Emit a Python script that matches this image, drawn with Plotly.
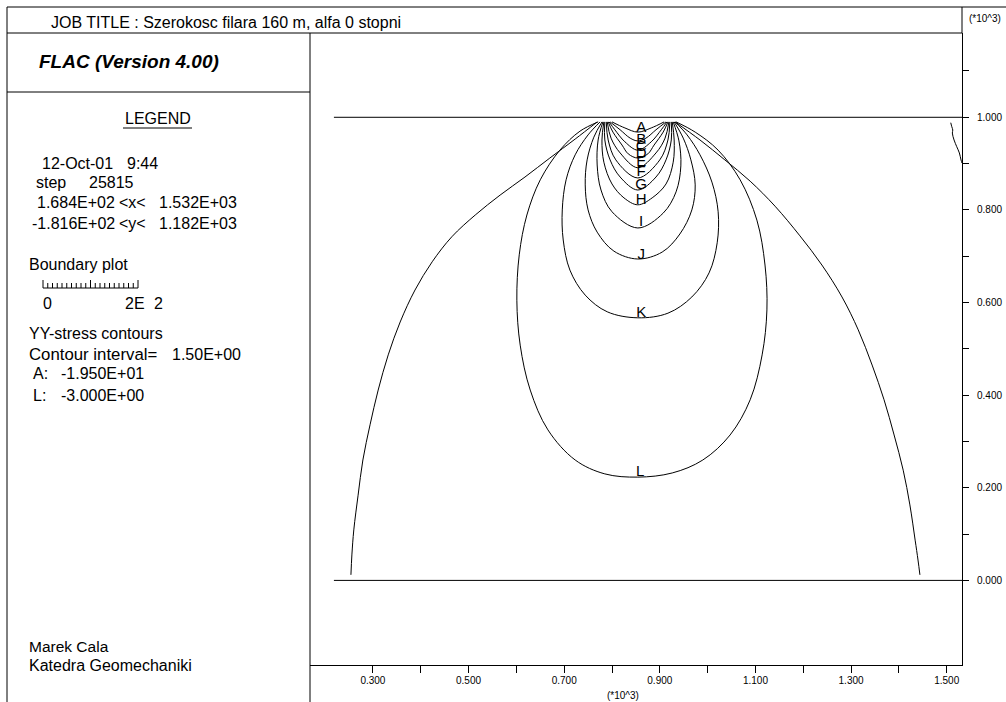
import plotly.graph_objects as go

W, H = 1006, 702

# ---------------- data (model units, metres) ----------------
X_RANGE = [168.4, 1532.0]
Y_RANGE = [-181.6, 1182.0]

x_tick_vals = [300, 400, 500, 600, 700, 800, 900, 1000, 1100, 1200, 1300, 1400, 1500]
x_tick_text = ["0.300", "", "0.500", "", "0.700", "", "0.900", "", "1.100", "", "1.300", "", "1.500"]
y_tick_vals = [0, 100, 200, 300, 400, 500, 600, 700, 800, 900, 1000, 1100]
y_tick_text = ["0.000", "", "0.200", "", "0.400", "", "0.600", "", "0.800", "", "1.000", ""]

boundary_top_x = [218.4, 1532.0]
boundary_top_y = [1000.0, 1000.0]
boundary_bot_x = [218.4, 1532.0]
boundary_bot_y = [0.0, 0.0]

outer_left_x = [769, 723, 670, 618, 566, 514, 465, 424, 388, 357, 332, 311, 294, 279, 269, 260, 256, 254]
outer_left_y = [990, 953, 912, 871, 832, 789, 742, 688, 627, 558, 487, 411, 336, 260, 184, 109, 55, 12]
outer_right_x = [932, 984, 1036, 1089, 1141, 1193, 1239, 1281, 1315, 1344, 1369, 1390, 1409, 1423, 1434, 1440, 1444]
outer_right_y = [990, 951, 908, 862, 808, 744, 681, 612, 541, 465, 390, 314, 238, 163, 87, 44, 12]

edge_fragment_x = [1508.5, 1510.6, 1512.7, 1511.8, 1515.4, 1521.0, 1526.5, 1530.0, 1532.0]
edge_fragment_y = [988.3, 979.7, 972.5, 966.0, 951.0, 936.5, 923.0, 907.8, 901.3]

contour_L_x = [771, 733, 691, 650, 622, 606, 601, 608, 629, 666, 723, 785, 854, 926, 990, 1047, 1089, 1114, 1124, 1120, 1103, 1068, 1022, 974, 934]
contour_L_y = [990, 970, 929, 865, 789, 703, 605, 508, 411, 325, 260, 230, 223, 232, 260, 314, 390, 487, 584, 681, 778, 865, 929, 968, 990]

contour_K_x = [775, 750, 723, 704, 696, 698, 712, 744, 790, 854, 917, 967, 1003, 1020, 1022, 1009, 984, 957, 932]
contour_K_y = [990, 962, 919, 865, 800, 735, 670, 616, 580, 567, 577, 612, 664, 729, 796, 860, 919, 962, 990]

contour_J_x = [779, 762, 748, 744, 750, 769, 804, 854, 905, 942, 967, 974, 965, 949, 930]
contour_J_y = [990, 957, 908, 854, 800, 752, 711, 694, 709, 748, 800, 854, 908, 955, 990]

contour_I_x = [781, 771, 769, 777, 800, 854, 907, 934, 944, 940, 928]
contour_I_y = [990, 951, 897, 843, 796, 761, 793, 839, 895, 949, 990]

contour_H_x = [783, 779, 783, 800, 825, 854, 884, 913, 928, 930, 926]
contour_H_y = [990, 951, 903, 856, 826, 811, 826, 856, 903, 951, 990]

contour_G_x = [785, 785, 796, 817, 854, 892, 913, 924, 924]
contour_G_y = [990, 951, 908, 871, 843, 871, 908, 951, 990]

contour_F_x = [788, 792, 808, 854, 900, 917, 921]
contour_F_y = [990, 951, 908, 869, 908, 951, 990]

contour_E_x = [790, 798, 817, 854, 892, 911, 919]
contour_E_y = [990, 955, 923, 891, 923, 955, 990]

contour_D_x = [792, 802, 821, 834, 854, 875, 888, 907, 917]
contour_D_y = [990, 968, 940, 921, 912, 921, 940, 968, 990]

contour_C_x = [794, 806, 827, 854, 882, 903, 915]
contour_C_y = [990, 973, 947, 929, 947, 973, 990]

contour_B_x = [796, 817, 838, 854, 871, 892, 913]
contour_B_y = [990, 973, 955, 949, 955, 973, 990]

contour_A_x = [800, 827, 854, 882, 909]
contour_A_y = [990, 977, 968, 977, 990]

label_text = ["A", "B", "C", "D", "E", "F", "G", "H", "I", "J", "K", "L"]
label_x = [861, 861, 861, 861, 861, 861, 861, 861, 861, 861, 861, 859]
label_y = [977, 951, 936, 921, 903, 882, 854, 821, 774, 703, 577, 234]

# ---------------- figure ----------------
FONT = "Liberation Sans, Arial, sans-serif"
fig = go.Figure()

line_style = dict(color="black", width=1)
series = [
    (boundary_top_x, boundary_top_y), (boundary_bot_x, boundary_bot_y),
    (outer_left_x, outer_left_y), (outer_right_x, outer_right_y),
    (edge_fragment_x, edge_fragment_y),
    (contour_L_x, contour_L_y), (contour_K_x, contour_K_y), (contour_J_x, contour_J_y),
    (contour_I_x, contour_I_y), (contour_H_x, contour_H_y), (contour_G_x, contour_G_y),
    (contour_F_x, contour_F_y), (contour_E_x, contour_E_y), (contour_D_x, contour_D_y),
    (contour_C_x, contour_C_y), (contour_B_x, contour_B_y), (contour_A_x, contour_A_y),
]
for xs, ys in series:
    fig.add_trace(go.Scatter(x=xs, y=ys, mode="lines", line=line_style,
                             line_shape="spline", hoverinfo="skip"))

fig.add_trace(go.Scatter(x=label_x, y=label_y, text=label_text, mode="text",
                         textposition="middle center",
                         textfont=dict(family=FONT, size=15, color="black"),
                         hoverinfo="skip"))


def px(x):
    return x / W


def py(y):
    return 1 - y / H


fig.update_layout(
    width=W, height=H,
    margin=dict(l=0, r=0, t=0, b=0),
    paper_bgcolor="white", plot_bgcolor="white",
    showlegend=False,
    xaxis=dict(
        range=X_RANGE, domain=[px(310), px(962)],
        showgrid=False, zeroline=False,
        showline=True, linecolor="black", linewidth=1,
        ticks="outside", ticklen=7, tickcolor="black", tickwidth=1,
        tickmode="array", tickvals=x_tick_vals, ticktext=x_tick_text,
        tickfont=dict(family=FONT, size=10, color="black"),
        ticklabelstandoff=-1,
        fixedrange=True,
    ),
    yaxis=dict(
        range=Y_RANGE, domain=[py(664.5), py(33)],
        side="right",
        showgrid=False, zeroline=False,
        showline=True, linecolor="black", linewidth=1,
        ticks="outside", ticklen=6, tickcolor="black", tickwidth=1,
        tickmode="array", tickvals=y_tick_vals, ticktext=y_tick_text,
        tickfont=dict(family=FONT, size=10, color="black"),
        ticklabelstandoff=6,
        fixedrange=True,
    ),
)

# frame lines (paper coordinates)
frame = [
    (7, 7, 1006, 7),      # top border
    (7, 7, 7, 702),       # left border
    (7, 33, 962, 33),     # title bar bottom
    (310, 33, 310, 702),  # left panel right edge
    (7, 92, 310, 92),     # FLAC box bottom
    (962, 7, 962, 33),    # axis line extension
    (123, 128, 192, 128), # LEGEND underline
]
shapes = []
for x0, y0, x1, y1 in frame:
    shapes.append(dict(type="line", xref="paper", yref="paper",
                       x0=px(x0), y0=py(y0), x1=px(x1), y1=py(y1),
                       line=dict(color="black", width=1)))

# scale bar in legend (0 .. 2E2 m, 20 divisions)
bar_left, bar_right, bar_y = 43, 138, 288
shapes.append(dict(type="line", xref="paper", yref="paper",
                   x0=px(bar_left), y0=py(bar_y), x1=px(bar_right), y1=py(bar_y),
                   line=dict(color="black", width=1)))
for i in range(21):
    xx = bar_left + (bar_right - bar_left) * i / 20
    tall = 8 if i in (0, 10, 20) else 5
    shapes.append(dict(type="line", xref="paper", yref="paper",
                       x0=px(xx), y0=py(bar_y), x1=px(xx), y1=py(bar_y - tall),
                       line=dict(color="black", width=1)))
fig.update_layout(shapes=shapes)

texts = [
    ("JOB TITLE : Szerokosc filara 160 m, alfa 0 stopni", 49, 23, "left", 16),
    ("12-Oct-01", 40, 163, "left", 16),
    ("9:44", 125, 163, "left", 16),
    ("step", 34, 183, "left", 16),
    ("25815", 87, 183, "left", 16),
    ("1.684E+02", 35, 203, "left", 16),
    ("<x<", 117, 203, "left", 16),
    ("1.532E+03", 157, 203, "left", 16),
    ("-1.816E+02", 30, 223, "left", 16),
    ("<y<", 117, 223, "left", 16),
    ("1.182E+03", 157, 223, "left", 16),
    ("Boundary plot", 27, 264, "left", 16),
    ("0", 47, 303, "center", 16),
    ("2E", 123, 303, "left", 16),
    ("2", 152, 303, "left", 16),
    ("YY-stress contours", 27, 333, "left", 16),
    ("Contour interval=", 27, 354, "left", 16.8),
    ("1.50E+00", 170, 354, "left", 16),
    ("A:", 31, 374, "left", 16),
    ("-1.950E+01", 59, 374, "left", 16),
    ("L:", 31, 395, "left", 16),
    ("-3.000E+00", 59, 395, "left", 16),
    ("Marek Cala", 27, 646, "left", 15.5),
    ("Katedra Geomechaniki", 27, 665, "left", 16),
    ("LEGEND", 157.5, 118, "center", 16),
    ("(*10^3)", 985, 18, "center", 10),
    ("(*10^3)", 623, 695, "center", 10),
    ("<b><i>FLAC (Version 4.00)</i></b>", 37, 62, "left", 19),
]
for t, x, y, anchor, size in texts:
    fig.add_annotation(text=t, xref="paper", yref="paper", x=px(x), y=py(y),
                       xanchor=anchor, yanchor="middle", showarrow=False,
                       font=dict(family=FONT, size=size, color="black"))

fig.write_html("out.html")
